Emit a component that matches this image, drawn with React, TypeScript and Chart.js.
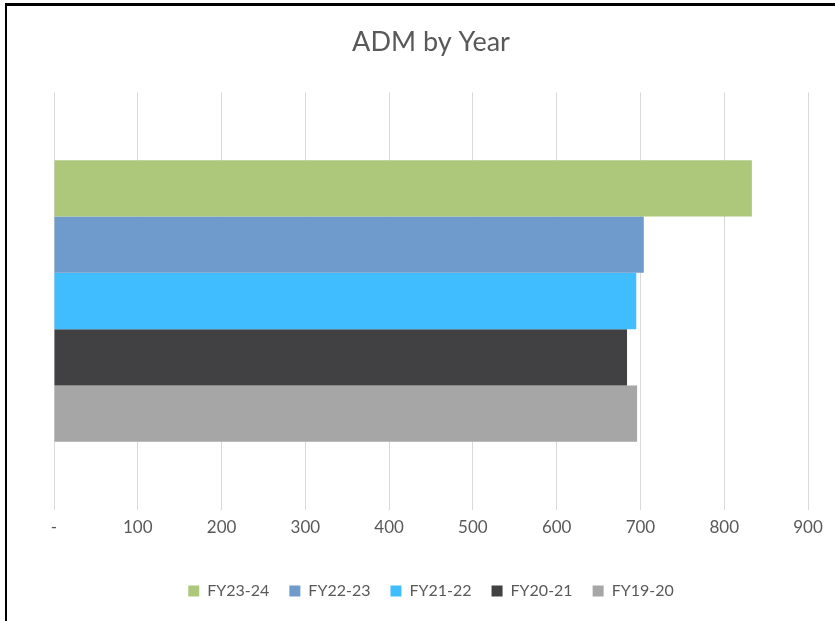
import React, { useEffect, useRef } from "react";
import { Chart, registerables } from "chart.js";

Chart.register(...registerables);

const categories = ["ADM"];
const seriesNames = ["FY23-24", "FY22-23", "FY21-22", "FY20-21", "FY19-20"];
const seriesValues = [[833], [704], [695], [684], [696]];
const seriesColors = ["#AEC87B", "#6F9ACC", "#40BDFF", "#414143", "#A6A6A6"];
const tickMin = 0;
const tickMax = 900;
const tickStep = 100;

const FONT = "Lato, 'Open Sans', sans-serif";

export default function App() {
  const ref = useRef<HTMLCanvasElement>(null);

  useEffect(() => {
    if (!ref.current) return;
    const chart = new Chart(ref.current, {
      type: "bar",
      data: {
        labels: categories,
        datasets: seriesNames.map((name, i) => ({
          label: name,
          data: seriesValues[i],
          backgroundColor: seriesColors[i],
          borderWidth: 0,
          categoryPercentage: 0.675,
          barPercentage: 1,
        })),
      },
      options: {
        indexAxis: "y",
        animation: false,
        responsive: false,
        maintainAspectRatio: false,
        layout: { padding: { left: 54, right: 27, top: 0, bottom: 12 } },
        plugins: {
          title: {
            display: true,
            text: "ADM by Year",
            color: "#595959",
            font: { family: FONT, size: 27, weight: "normal" },
            padding: { top: 26, bottom: 34 },
          },
          legend: {
            position: "bottom",
            labels: {
              color: "#595959",
              font: { family: FONT, size: 16 },
              boxWidth: 11,
              boxHeight: 11,
              padding: 20,
            },
          },
          tooltip: { enabled: false },
        },
        scales: {
          x: {
            min: tickMin,
            max: tickMax,
            border: { display: false },
            grid: { color: "#D9D9D9", lineWidth: 1, drawTicks: false },
            ticks: {
              stepSize: tickStep,
              color: "#595959",
              font: { family: FONT, size: 17 },
              padding: 8,
              callback: (v: any) => (Number(v) === 0 ? "-" : String(v)),
            },
            afterFit: (axis: any) => {
              axis.height += 17;
            },
          },
          y: {
            display: false,
          },
        },
      },
    });
    return () => chart.destroy();
  }, []);

  return (
    <div style={{ position: "absolute", left: 0, top: 0, width: 835, height: 621, background: "#fff", overflow: "hidden" }}>
      <canvas ref={ref} width={835} height={621} style={{ position: "absolute", left: 0, top: 0, width: 835, height: 621 }} />
      <div
        style={{
          position: "absolute",
          left: 5,
          top: 3,
          width: 900,
          height: 700,
          borderLeft: "2px solid #000",
          borderTop: "3px solid #000",
          pointerEvents: "none",
        }}
      />
    </div>
  );
}
